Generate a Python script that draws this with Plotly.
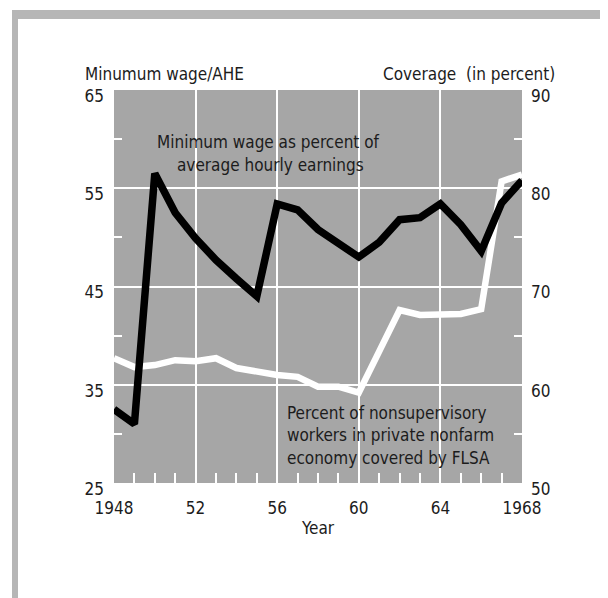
import plotly.graph_objects as go

years = list(range(1948, 1969))
min_wage_pct = [32.5, 31.0, 56.5, 52.5, 49.9, 47.7, 45.8, 44.0, 53.4, 52.8, 50.8,
                49.3, 48.0, 49.5, 51.8, 52.0, 53.4, 51.3, 48.6, 53.5, 55.8]
coverage_pct = [62.7, 61.8, 62.0, 62.5, 62.4, 62.7, 61.7, 61.3, 61.0, 60.8, 59.8,
                59.8, 59.2, 63.4, 67.6, 67.1, 67.1, 67.2, 67.7, 80.7, 81.4]

x_labels = {"1952": "52", "1956": "56", "1960": "60", "1964": "64"}

FONT = "DejaVu Sans Condensed, Liberation Sans Narrow, sans-serif"
FS = 17
TXT = "#1c1c1c"
BG = "#a6a6a6"
BORDER = "#b6b6b6"

# page is rendered with an 8px body margin
OFF = 8
W, H = 608 - OFF, 598 - OFF
PL, PR, PT, PB = 114, 522, 90, 483  # plot area in page pixels
L, R, T, B = PL - OFF, W - (PR - OFF), PT - OFF, H - (PB - OFF)
PW, PH = W - L - R, H - T - B


def px(xp):
    return (xp - OFF - L) / PW


def py(yp):
    return (H - B - (yp - OFF)) / PH


fig = go.Figure()
# coverage (base subplot, right axis) drawn underneath
fig.add_trace(go.Scatter(x=years, y=coverage_pct, mode="lines",
                         line=dict(color="white", width=6.5),
                         yaxis="y", hoverinfo="skip", showlegend=False))
# minimum wage ratio (overlay subplot, left axis) drawn on top
fig.add_trace(go.Scatter(x=years, y=min_wage_pct, mode="lines",
                         line=dict(color="black", width=7.5),
                         yaxis="y2", hoverinfo="skip", showlegend=False))

minor_common = dict(ticks="inside", tickcolor="white", tickwidth=2, showgrid=False)

fig.update_layout(
    width=W, height=H,
    margin=dict(l=L, r=R, t=T, b=B, pad=0),
    paper_bgcolor="white",
    plot_bgcolor=BG,
    font=dict(family=FONT, size=FS, color=TXT),
    xaxis=dict(range=[1948, 1968], tickmode="linear", tick0=1948, dtick=4,
               tickformat="d", labelalias=x_labels,
               showgrid=True, gridcolor="white", gridwidth=2, zeroline=False,
               showline=False, ticks="", ticklabelstandoff=13,
               minor=dict(dtick=1, tick0=1948, ticklen=10, **minor_common)),
    yaxis=dict(range=[50, 90], side="right", tickmode="linear", tick0=50,
               dtick=10, showgrid=True, gridcolor="white", gridwidth=2,
               zeroline=False, showline=False, ticks="",
               ticklabelstandoff=8, ticklabelshift=6,
               minor=dict(dtick=5, tick0=50, ticklen=8, **minor_common)),
    yaxis2=dict(range=[25, 65], side="left", overlaying="y", tickmode="linear",
                tick0=25, dtick=10, showgrid=False, zeroline=False,
                showline=False, ticks="", ticklabelstandoff=9,
                ticklabelshift=6,
                minor=dict(dtick=5, tick0=25, ticklen=8, **minor_common)),
)

ann = [
    ("Minumum wage/AHE", 83, 74, "left"),
    ("Coverage  (in percent)", 557, 74, "right"),
    ("Minimum wage as percent of", 268, 142, "center"),
    ("average hourly earnings", 270, 165, "center"),
    ("Percent of nonsupervisory", 285, 413, "left"),
    ("workers in private nonfarm", 285, 435, "left"),
    ("economy covered by FLSA", 285, 458, "left"),
    ("Year", 318, 528, "center"),
]
for text, ax, ay, anchor in ann:
    fig.add_annotation(text=text, x=px(ax), y=py(ay), xref="paper", yref="paper",
                       xanchor=anchor, yanchor="middle", showarrow=False,
                       font=dict(family=FONT, size=FS, color=TXT))

# page border strips (scanned frame)
fig.add_shape(type="rect", xref="paper", yref="paper", x0=px(12), x1=px(608),
              y0=py(19), y1=py(10), fillcolor=BORDER, line=dict(width=0),
              layer="below")
fig.add_shape(type="rect", xref="paper", yref="paper", x0=px(12), x1=px(18),
              y0=py(598), y1=py(10), fillcolor=BORDER, line=dict(width=0),
              layer="below")

fig.write_html("out.html")
